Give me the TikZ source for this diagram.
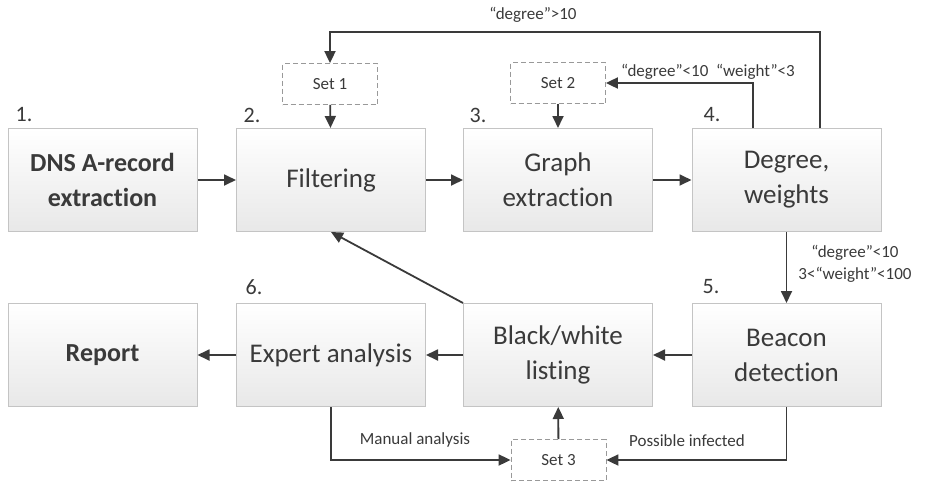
\documentclass[tikz,border=0pt]{standalone}
\usepackage{fontspec}
\setmainfont{Carlito}[Ligatures=NoCommon]
\usetikzlibrary{arrows.meta,calc}
\definecolor{ink}{HTML}{3A3A3A}
\definecolor{boxline}{HTML}{C4C4C4}
\tikzset{
  stepbox/.style={draw=boxline, line width=1pt, top color=white, bottom color=black!9,
    minimum width=189pt, minimum height=103pt, inner sep=0pt, align=center,
    text=ink, font=\fontsize{27}{35}\selectfont},
  setbox/.style={draw=black!40, dashed, dash pattern=on 5pt off 3pt, line width=0.8pt,
    fill=white, minimum width=95pt, minimum height=41pt, inner sep=0pt,
    text=ink, font=\fontsize{17}{20}\selectfont},
  arr/.style={draw=ink, line width=1.8pt, -{Triangle[length=12pt,width=11pt]}},
  lab/.style={text=ink, font=\fontsize{17}{22}\selectfont, inner sep=0pt, align=center},
  num/.style={text=ink, font=\fontsize{22}{26}\selectfont, inner sep=0pt}
}
\begin{document}
\begin{tikzpicture}[x=1pt,y=-1pt]
\useasboundingbox (0,0) rectangle (938,496);
% top row
\node[stepbox, font=\bfseries\fontsize{26}{35}\selectfont] (b1) at (102.5,180) {DNS A-record\\extraction};
\node[stepbox] (b2) at (331,180) {Filtering};
\node[stepbox] (b3) at (558,180) {Graph\\extraction};
\node[stepbox] (b4) at (786.5,180) {Degree,\\weights};
% bottom row
\node[stepbox, font=\bfseries\fontsize{26}{35}\selectfont] (b8) at (102.5,355) {Report};
\node[stepbox] (b7) at (331,355) {Expert analysis};
\node[stepbox] (b6) at (558,355) {Black/white\\listing};
\node[stepbox] (b5) at (786.5,355) {Beacon\\detection};
% sets
\node[setbox] (s1) at (330,84) {Set 1};
\node[setbox] (s2) at (558,83) {Set 2};
\node[setbox] (s3) at (558.5,460) {Set 3};
% numbers
\node[num] (n1) at (24,115) {1.};
\node[num] (n2) at (252,115) {2.};
\node[num] (n3) at (478,115) {3.};
\node[num] (n4) at (712,115) {4.};
\node[num] (n5) at (711,287) {5.};
\node[num] (n6) at (254,287) {6.};
% coordinates
\coordinate (t1) at (820,32);
\coordinate (t2) at (753,87);
% connectors
\draw[arr] (b1) -- (b2);
\draw[arr] (b2) -- (b3);
\draw[arr] (b3) -- (b4);
\draw[arr] (b4.north -| t1) -- (t1) -| (s1.north);
\draw[arr] (s1) -- (b2);
\draw[arr] (b4.north -| t2) |- (s2.east);
\draw[arr] (s2) -- (b3);
\draw[arr] (b4) -- (b5);
\draw[arr] (b5) -- (b6);
\draw[arr] (b6) -- (b7);
\draw[arr] (b7) -- (b8);
\draw[arr] (b6.north west) -- (b2.south);
\draw[arr] (b5.south) |- (s3.east);
\draw[arr] (b7.south) |- (s3.west);
\draw[arr] (s3) -- (b6);
% labels
\node[lab] (l1) at (533,15) {“degree”>10};
\node[lab] (l2) at (708,72) {“degree”<10\ \ “weight”<3};
\node[lab] (l3) at (855,264) {“degree”<10\\3<“weight”<100};
\node[lab] (l4) at (415,440) {Manual analysis};
\node[lab] (l5) at (687,441) {Possible infected};
\end{tikzpicture}
\end{document}
